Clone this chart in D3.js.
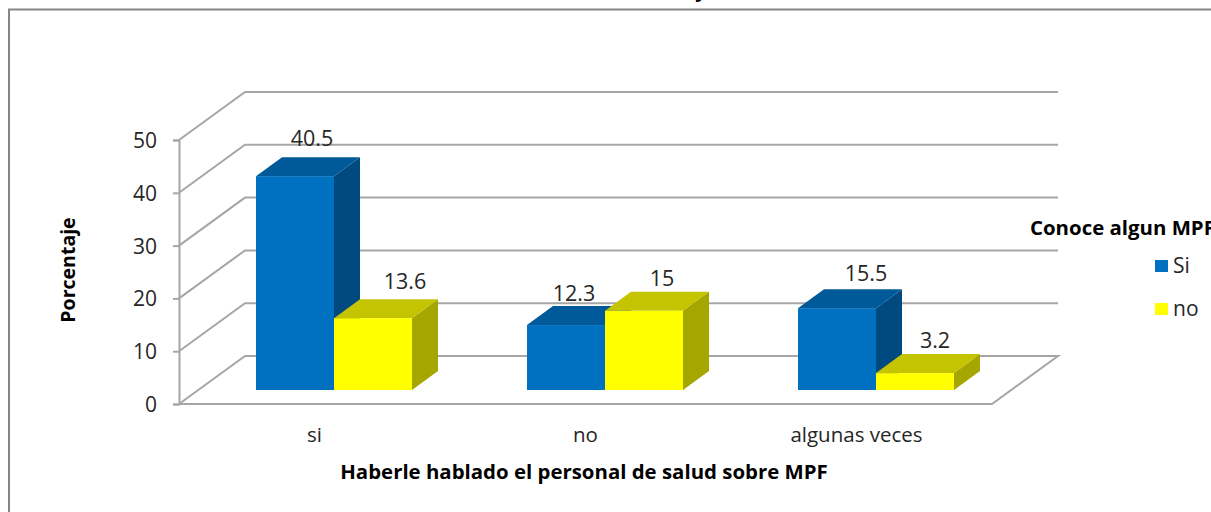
<!DOCTYPE html>
<html><head><meta charset="utf-8">
<script src="https://cdn.jsdelivr.net/npm/d3@7/dist/d3.min.js"></script>
<style>html,body{margin:0;padding:0;background:#fff;overflow:hidden}svg{display:block}text{font-family:"Open Sans",sans-serif;fill:#262626}</style>
</head><body><svg id="c" width="1211" height="512"></svg>
<script>
const categories = ["si", "no", "algunas veces"];
const seriesNames = ["Si", "no"];
const siValues = [40.5, 12.3, 15.5];
const noValues = [13.6, 15, 3.2];
const valueLabels = [["40.5","12.3","15.5"],["13.6","15","3.2"]];
const yTicks = [0, 10, 20, 30, 40, 50];
const legendTitle = "Conoce algun MPF";
const xTitle = "Haberle hablado el personal de salud sobre MPF";
const yTitle = "Porcentaje";

// layout
const labelNudge = [[[17,-11],[8,-5],[29,-8]],[[32,-10],[18,-6],[20,-6]]];
const frontL=179, frontR=992, y0=404, y50=140;
const wallDx=66, wallDy=-48, barDx=19.5, barDy=-14, depthDx=26, depthDy=-19, barW=78;
const faces=[{front:"#0070C0",top:"#005A9A",side:"#004A80"},{front:"#FFFF00",top:"#C4C400",side:"#A6A600"}];
const gridColor="#A6A6A6";

const svg=d3.select("#c");
const y=d3.scaleLinear().domain([0,50]).range([y0,y50]);
const x=d3.scaleBand().domain(categories).range([frontL,frontR]);

// frame
svg.append("path").attr("d","M9,512V9.5H1211").attr("fill","none").attr("stroke","#868686").attr("stroke-width",2);

// clipped chart title fragment
svg.append("text").attr("x",701).attr("y",-3).attr("text-anchor","middle").attr("font-size",20).attr("font-weight",700).style("fill","#000").text("y");

// walls
const line=d3.line();
svg.append("g").selectAll("path").data(yTicks).join("path")
  .attr("d",t=>t===0
    ? line([[frontL,y(0)],[frontL+wallDx,y(0)+wallDy],[frontR+wallDx,y(0)+wallDy],[frontR,y(0)],[frontL,y(0)]])
    : line([[frontL,y(t)],[frontL+wallDx,y(t)+wallDy],[frontR+wallDx,y(t)+wallDy]]))
  .attr("fill","none").attr("stroke",gridColor).attr("stroke-width",2);

// axes
const ax=svg.append("g").attr("transform",`translate(${frontL},0)`)
  .call(d3.axisLeft(y).tickValues(yTicks).tickSize(6).tickPadding(16).tickFormat(d3.format("d")));
ax.selectAll("line,path").attr("stroke",gridColor).attr("stroke-width",2);
ax.selectAll("text").attr("font-size",21).attr("dy","0.36em");

const bx=svg.append("g").attr("transform",`translate(0,${y0})`)
  .call(d3.axisBottom(x).tickSize(0).tickPadding(23));
bx.select(".domain").remove();
bx.selectAll("text").attr("font-size",20.5).attr("dy","0.71em");

// bars
const offset=x.bandwidth()/2+barDx;
[siValues,noValues].forEach((vals,s)=>{
  const g=svg.append("g");
  vals.forEach((v,i)=>{
    const xl=x(categories[i])+offset-barW+s*barW, xr=xl+barW;
    const base=y(0)+barDy, top=y(v)+barDy;
    const f=faces[s];
    g.append("polygon").attr("points",[[xr,base],[xr+depthDx,base+depthDy],[xr+depthDx,top+depthDy],[xr,top]].join(" ")).attr("fill",f.side);
    g.append("polygon").attr("points",[[xl,top],[xl+depthDx,top+depthDy],[xr+depthDx,top+depthDy],[xr,top]].join(" ")).attr("fill",f.top);
    g.append("rect").attr("x",xl).attr("y",top).attr("width",barW).attr("height",base-top).attr("fill",f.front);
  });
});
// value labels, above the bars
[siValues,noValues].forEach((vals,s)=>{
  vals.forEach((v,i)=>{
    const xl=x(categories[i])+offset-barW+s*barW;
    svg.append("text").attr("x",xl+barW/2+labelNudge[s][i][0])
      .attr("y",y(v)+barDy+depthDy+labelNudge[s][i][1])
      .attr("text-anchor","middle").attr("font-size",21.5).text(valueLabels[s][i]);
  });
});

// titles
svg.append("text").attr("x",584).attr("y",479).attr("text-anchor","middle").attr("font-size",20.4).attr("font-weight",700).style("fill","#000").text(xTitle);
svg.append("text").attr("transform","translate(75,270) rotate(-90)").attr("text-anchor","middle").attr("font-size",19.5).attr("font-weight",700).style("fill","#000").text(yTitle);

// legend
svg.append("text").attr("x",1030).attr("y",235).attr("font-size",20.4).attr("font-weight",700).style("fill","#000").text(legendTitle);
const legendY=d3.scalePoint().domain(seriesNames).range([266,309]);
seriesNames.forEach((n,i)=>{
  svg.append("rect").attr("x",1155).attr("y",legendY(n)-6).attr("width",13).attr("height",12).attr("fill",faces[i].front);
  svg.append("text").attr("x",1173).attr("y",legendY(n)+7).attr("font-size",21).text(n);
});
</script></body></html>
